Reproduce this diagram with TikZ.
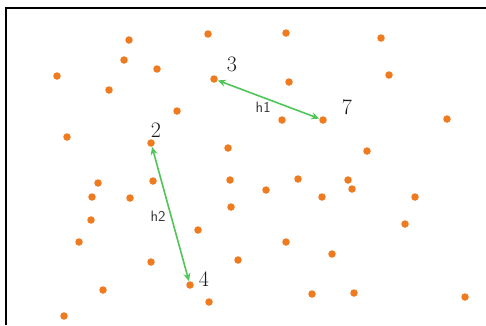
\documentclass[tikz,border=0pt]{standalone}
\usepackage{tikz}
\usetikzlibrary{arrows.meta,positioning}
\definecolor{dotOrange}{HTML}{F07A1E}
\definecolor{linkGreen}{HTML}{4FC657}

\begin{document}
\begin{tikzpicture}[
  x=1pt, y=-1pt,
  dot/.style={circle, fill=dotOrange, minimum size=7.5pt, inner sep=0pt},
  num/.style={font=\fontsize{22}{22}\selectfont, text=black!90, inner sep=0pt},
  hlab/.style={font=\sffamily\fontsize{15}{15}\selectfont, text=black!80, inner sep=0pt},
  link/.style={{Stealth[length=8pt,width=7pt]}-{Stealth[length=8pt,width=7pt]}, linkGreen, line width=1.6pt}
]
  \useasboundingbox (0,0) rectangle (486,325);
  \fill[white] (0,0) rectangle (486,325);
  \draw[line width=1.5pt] (6,325) -- (6,8) -- (486,8);

  % scattered points
  \foreach \px/\py [count=\i] in {129/40, 208/34, 286/33, 381/38, 124/60, 157/69, 57/76,
      289/82, 389/75, 109/90, 177/111, 282/120, 447/119, 67/137, 228/148, 367/151,
      98/183, 153/181, 230/180, 298/179, 348/180, 352/189, 266/190, 92/197, 130/198,
      322/197, 415/197, 231/207, 91/220, 405/224, 198/230, 79/242, 286/242, 332/254,
      151/262, 238/260, 103/290, 312/294, 354/293, 465/297, 209/302, 64/316}
    \node[dot] (d\i) at (\px,\py) {};

  % the marked points
  \node[dot] (p3) at (214,79) {};
  \node[dot] (p7) at (323,120) {};
  \node[dot] (p2) at (151,143) {};
  \node[dot] (p4) at (190,285) {};

  \node[num] (n3) at (232,64) {3};
  \node[num] (n7) at (347,107) {7};
  \node[num] (n2) at (156,130) {2};
  \node[num] (n4) at (204,279) {4};

  \draw[link] (p3) -- (p7) node[hlab, pos=0.45, below left=4pt and -8pt] (h1) {h1};
  \draw[link] (p2) -- (p4) node[hlab, pos=0.52, left=5pt] (h2) {h2};
\end{tikzpicture}
\end{document}
